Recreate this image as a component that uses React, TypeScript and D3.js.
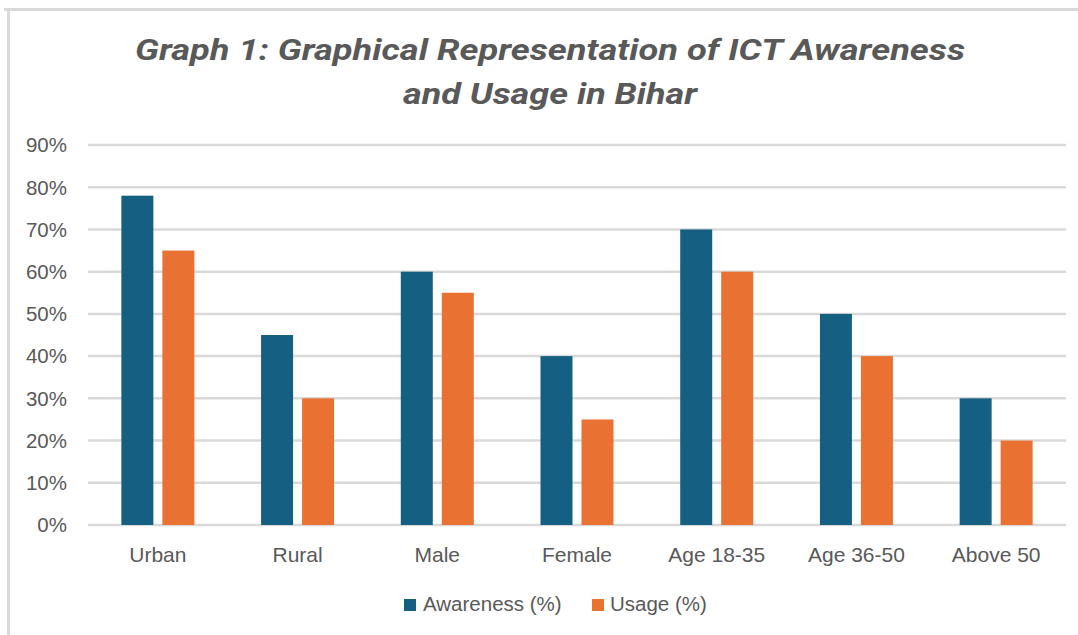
import React from "react";
import * as d3 from "d3";

const categories = ["Urban", "Rural", "Male", "Female", "Age 18-35", "Age 36-50", "Above 50"];
const awareness = [78, 45, 60, 40, 70, 50, 30];
const usage = [65, 30, 55, 25, 60, 40, 20];
const yTicks = [0, 10, 20, 30, 40, 50, 60, 70, 80, 90];
const seriesNames = ["Awareness (%)", "Usage (%)"];
const colors = ["#156082", "#E97132"];

export default function App() {
  const W = 1078, H = 635;
  const left = 88, right = 1066, top = 145, bottom = 525;
  const x = d3.scaleBand<string>().domain(categories).range([left, right]).padding(0);
  const y = d3.scaleLinear().domain([0, 90]).range([bottom, top]);
  const bw = 32, gap = 9;
  const textColor = "#595959";
  const font = "Liberation Sans, Arial, sans-serif";
  return (
    <svg width={W} height={H} style={{ position: "absolute", left: 0, top: 0, background: "#fff" }}>
      <rect x={0} y={0} width={W} height={H} fill="#fff" />
      <line x1={4} x2={W} y1={9.5} y2={9.5} stroke="#d9d9d9" strokeWidth={3} />
      <line x1={8.5} x2={8.5} y1={8} y2={H} stroke="#d9d9d9" strokeWidth={3} />
      <text x={550} y={60} textAnchor="middle" fontFamily="Roboto, sans-serif" fontStyle="italic" fontWeight={700} fontSize={29} fill={textColor} textLength={830} lengthAdjust="spacingAndGlyphs">
        Graph 1: Graphical Representation of ICT Awareness
      </text>
      <text x={550} y={104} textAnchor="middle" fontFamily="Roboto, sans-serif" fontStyle="italic" fontWeight={700} fontSize={29} fill={textColor} textLength={294} lengthAdjust="spacingAndGlyphs">
        and Usage in Bihar
      </text>
      {yTicks.map((t) => (
        <g key={t}>
          <line x1={left} x2={right} y1={y(t)} y2={y(t)} stroke="#d9d9d9" strokeWidth={2.5} />
          <text x={67} y={y(t)} dy="0.36em" textAnchor="end" fontFamily={font} fontSize={20.5} fill={textColor}>
            {t}%
          </text>
        </g>
      ))}
      {categories.map((c, i) => {
        const cx = (x(c) as number) + x.bandwidth() / 2;
        return (
          <g key={c}>
            <rect x={cx - gap / 2 - bw} y={y(awareness[i])} width={bw} height={bottom - y(awareness[i])} fill={colors[0]} />
            <rect x={cx + gap / 2} y={y(usage[i])} width={bw} height={bottom - y(usage[i])} fill={colors[1]} />
            <text x={cx} y={562} textAnchor="middle" fontFamily={font} fontSize={21} fill={textColor}>
              {c}
            </text>
          </g>
        );
      })}
      <g>
        <rect x={404} y={599} width={12} height={12} fill={colors[0]} />
        <text x={423} y={611} fontFamily={font} fontSize={20.5} fill={textColor}>{seriesNames[0]}</text>
        <rect x={592} y={599} width={12} height={12} fill={colors[1]} />
        <text x={610} y={611} fontFamily={font} fontSize={20.5} fill={textColor}>{seriesNames[1]}</text>
      </g>
    </svg>
  );
}
